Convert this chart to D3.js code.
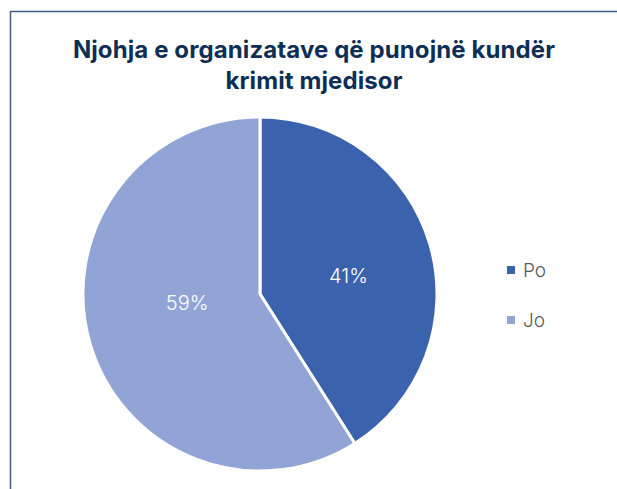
<!DOCTYPE html>
<html>
<head>
<meta charset="utf-8">
<script src="https://cdn.jsdelivr.net/npm/d3@7/dist/d3.min.js"></script>
<style>
  html, body { margin: 0; padding: 0; background: #fff; }
  svg { display: block; }
</style>
</head>
<body>
<svg id="chart" width="617" height="489"></svg>
<script>
// Awareness of organisations working against environmental crime
const categories = ["Po", "Jo"];
const values = [41, 59];
const colors = ["#3B63AD", "#91A4D5"];
const titleLines = ["Njohja e organizatave që punojnë kundër", "krimit mjedisor"];

const svg = d3.select("#chart");
const W = 617, H = 489;

// frame
svg.append("path")
  .attr("d", `M10.5,${H} V11.5 H${W}`)
  .attr("fill", "none")
  .attr("stroke", "#3E5C80")
  .attr("stroke-width", 1.5);

// title
svg.append("g").selectAll("text")
  .data(titleLines)
  .join("text")
  .attr("x", 314)
  .attr("y", (d, i) => 58 + i * 31)
  .attr("text-anchor", "middle")
  .attr("font-family", "Inter, 'Open Sans', sans-serif")
  .attr("font-weight", 700)
  .attr("font-size", 24)
  .attr("letter-spacing", 0.1)
  .attr("fill", "#0E2F55")
  .text(d => d);

// pie
const cx = 260, cy = 294, r = 177;
const pie = d3.pie().sort(null).value(d => d)(values);
const arc = d3.arc().innerRadius(0).outerRadius(r);
const g = svg.append("g").attr("transform", `translate(${cx},${cy})`);

g.selectAll("path")
  .data(pie)
  .join("path")
  .attr("d", arc)
  .attr("fill", (d, i) => colors[i])
  .attr("stroke", "#fff")
  .attr("stroke-width", 3)
  .attr("stroke-linejoin", "round");

// data labels: best-fit placement inside each slice
const labelRadius = [0.51, 0.415];
const labelTurn = [0.084, 0.16];
g.selectAll("text")
  .data(pie)
  .join("text")
  .attr("transform", (d, i) => {
    const a = (d.startAngle + d.endAngle) / 2 + labelTurn[i];
    const rr = r * labelRadius[i];
    return `translate(${rr * Math.sin(a)},${-rr * Math.cos(a)})`;
  })
  .attr("text-anchor", "middle")
  .attr("dy", "0.36em")
  .attr("font-family", "Inter, 'Open Sans', sans-serif")
  .attr("font-weight", 300)
  .attr("font-size", 20)
  .attr("fill", "#fff")
  .text(d => d.data + "%");

// legend
const legend = svg.append("g")
  .selectAll("g")
  .data(categories)
  .join("g")
  .attr("transform", (d, i) => `translate(507, ${270 + i * 50})`);

legend.append("rect")
  .attr("x", 0).attr("y", -4)
  .attr("width", 8).attr("height", 8)
  .attr("fill", (d, i) => colors[i]);

legend.append("text")
  .attr("x", 16)
  .attr("dy", "0.35em")
  .attr("font-family", "Inter, 'Open Sans', sans-serif")
  .attr("font-weight", 300)
  .attr("font-size", 19)
  .attr("fill", "#595959")
  .text(d => d);
</script>
</body>
</html>
